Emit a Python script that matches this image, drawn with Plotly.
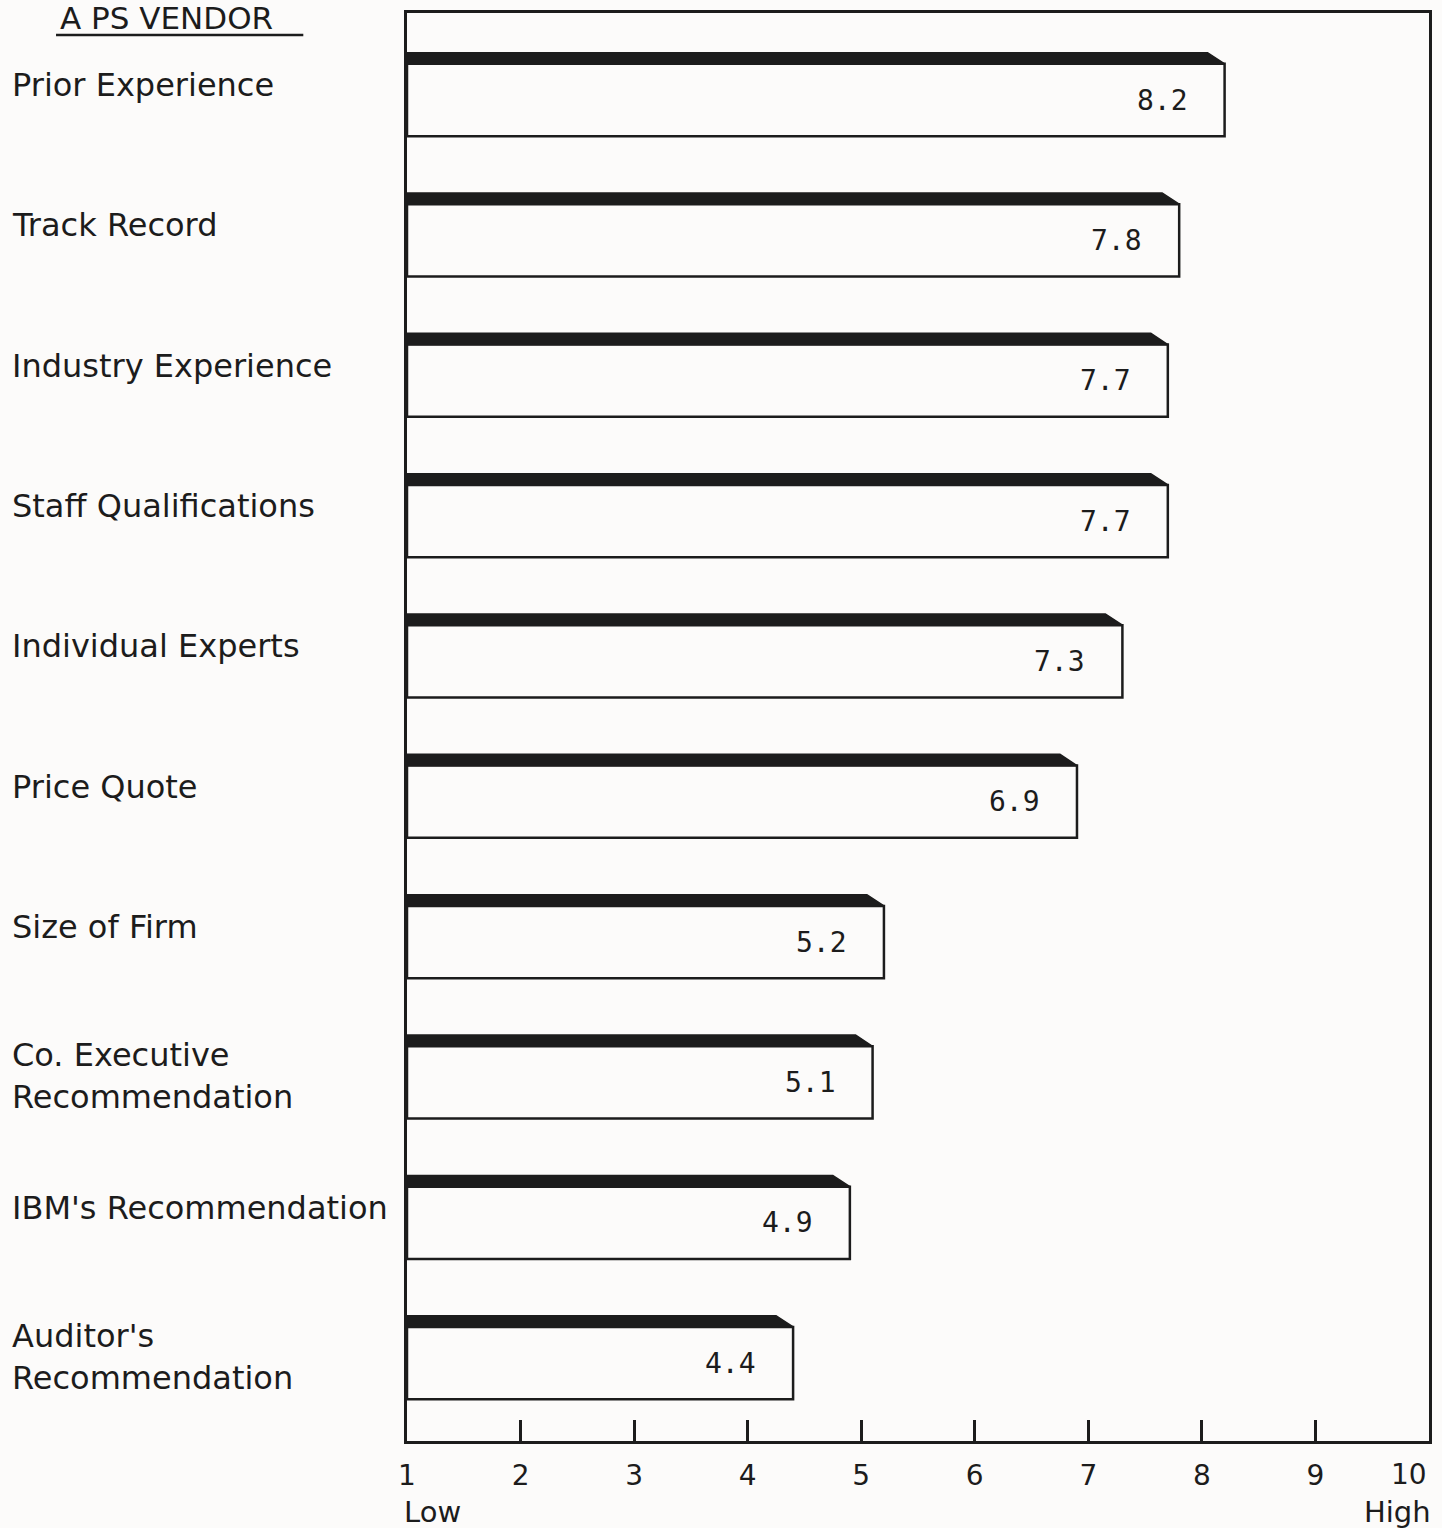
import plotly.graph_objects as go

# ---- data ----
categories = [
    "Prior Experience",
    "Track Record",
    "Industry Experience",
    "Staff Qualifications",
    "Individual Experts",
    "Price Quote",
    "Size of Firm",
    "Co. Executive<br>Recommendation",
    "IBM's Recommendation",
    "Auditor's<br>Recommendation",
]
scores = [8.2, 7.8, 7.7, 7.7, 7.3, 6.9, 5.2, 5.1, 4.9, 4.4]
tick_values = [1, 2, 3, 4, 5, 6, 7, 8, 9, 10]
tick_labels = ["1", "2", "3", "4", "5", "6", "7", "8", "9", "10"]
title_text = "A PS VENDOR"
scale_low = "Low"
scale_high = "High"

# ---- style ----
W, H = 1442, 1528
ML, MR, MT, MB = 407, 10, 10, 87
INK = "#1c1c1c"
BG = "#fcfbfa"
SANS = "DejaVu Sans"
MONO = "DejaVu Sans Mono"

bar_w = 0.515      # white box height in category units
band_h = 0.08      # dark top band height
slant = 0.15       # slant of band at the right end (x units)
x_min, x_max = tick_values[0], tick_values[-1]
pos = list(range(len(categories)))
plot_w = W - ML - MR
plot_h = H - MT - MB

fig = go.Figure()

# white boxes
fig.add_trace(go.Bar(
    y=pos,
    x=[s - x_min for s in scores],
    base=x_min,
    orientation="h",
    width=bar_w,
    marker=dict(color=BG, line=dict(color=INK, width=2.5)),
    hoverinfo="skip",
    showlegend=False,
))

# dark top bands (3D edge)
bx, by = [], []
for p, s in zip(pos, scores):
    top = p - bar_w / 2
    bx += [x_min, x_min, s - slant, s, x_min, None]
    by += [top, top - band_h, top - band_h, top, top, None]
fig.add_trace(go.Scatter(
    x=bx, y=by, mode="lines", fill="toself",
    fillcolor=INK, line=dict(color=INK, width=1.5),
    hoverinfo="skip", showlegend=False,
))

annotations = []
# value labels inside the bars
for p, s in zip(pos, scores):
    annotations.append(dict(
        x=s - 0.55, y=p, xref="x", yref="y", text=f"{s:.1f}",
        showarrow=False, xanchor="center", yanchor="middle",
        font=dict(family=MONO, size=28, color=INK),
    ))
# category labels on the left
for p, c in zip(pos, categories):
    two_line = "<br>" in c
    annotations.append(dict(
        x=(9 - ML) / plot_w, y=p, xref="paper", yref="y", text=c,
        showarrow=False, xanchor="left", yanchor="middle", align="left",
        yshift=6 if two_line else 15,
        font=dict(family=SANS, size=32, color=INK),
    ))
# last tick label (kept inside the page, right-aligned to the frame)
annotations.append(dict(
    x=tick_values[-1], y=0, xref="x", yref="paper", text=tick_labels[-1],
    showarrow=False, xanchor="right", yanchor="middle", yshift=-33,
    font=dict(family=SANS, size=28, color=INK),
))
# title (at page top, underlined by a rule below)
annotations.append(dict(
    x=(58 - ML) / plot_w, y=1, xref="paper", yref="paper", text=title_text,
    showarrow=False, xanchor="left", yanchor="top", yshift=14, borderpad=0,
    font=dict(family=SANS, size=31, color=INK),
))
# Low / High
annotations.append(dict(
    x=0, y=0, xref="paper", yref="paper", text=scale_low, showarrow=False,
    xanchor="left", yanchor="middle", xshift=-5, yshift=-71,
    font=dict(family=SANS, size=29, color=INK),
))
annotations.append(dict(
    x=1, y=0, xref="paper", yref="paper", text=scale_high, showarrow=False,
    xanchor="right", yanchor="middle", xshift=4, yshift=-71,
    font=dict(family=SANS, size=29, color=INK),
))

fig.update_layout(
    width=W, height=H, autosize=False,
    margin=dict(l=ML, r=MR, t=MT, b=MB, pad=0),
    paper_bgcolor=BG, plot_bgcolor=BG,
    showlegend=False,
    annotations=annotations,
    shapes=[dict(
        type="line", xref="paper", yref="paper",
        x0=(55 - ML) / plot_w, x1=(303 - ML) / plot_w,
        y0=1 - (32 - MT) / plot_h, y1=1 - (32 - MT) / plot_h,
        line=dict(color=INK, width=2.5),
    )],
    xaxis=dict(
        range=[x_min, x_max],
        tickvals=tick_values[:-1], ticktext=tick_labels[:-1],
        ticks="inside", ticklen=21, tickwidth=2.5, tickcolor=INK,
        showline=True, linecolor=INK, linewidth=2.5, mirror=True,
        showgrid=False, zeroline=False, ticklabelstandoff=8,
        tickfont=dict(family=SANS, size=28, color=INK),
    ),
    yaxis=dict(
        range=[9.555, -0.62], showticklabels=False, ticks="",
        showline=True, linecolor=INK, linewidth=2.5, mirror=True,
        showgrid=False, zeroline=False,
    ),
)

fig.write_html("out.html")
